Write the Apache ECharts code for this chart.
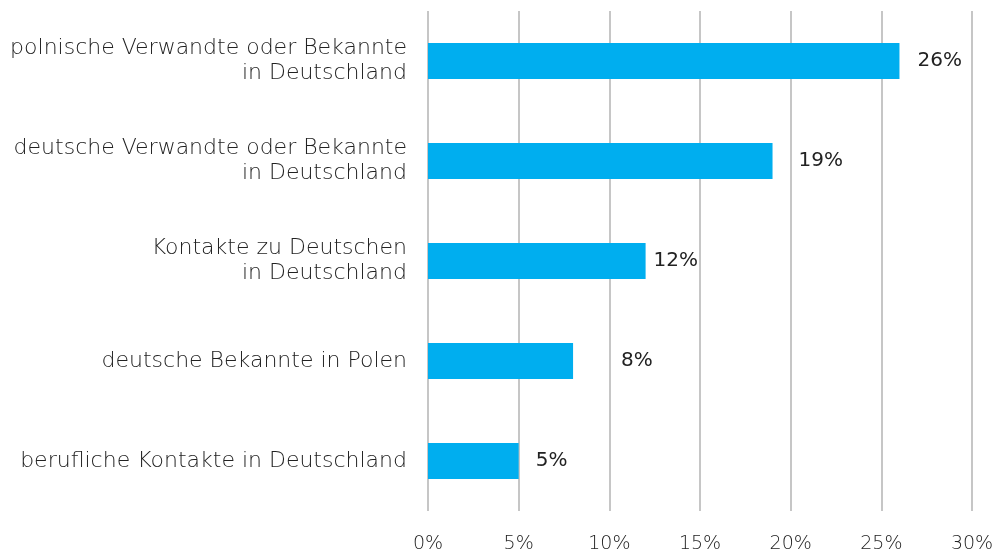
<!DOCTYPE html>
<html>
<head>
<meta charset="utf-8">
<script src="https://cdn.jsdelivr.net/npm/echarts@6/dist/echarts.min.js"></script>
<style>
  html, body { margin: 0; padding: 0; background: #fff; }
  #chart { width: 1003px; height: 557px; }
</style>
</head>
<body>
<div id="chart"></div>
<script>
// Kategorien von oben nach unten
const categories = [
  'polnische Verwandte oder Bekannte\nin Deutschland',
  'deutsche Verwandte oder Bekannte\nin Deutschland',
  'Kontakte zu Deutschen\nin Deutschland',
  'deutsche Bekannte in Polen',
  'berufliche Kontakte in Deutschland',
];
const values = [26, 19, 12, 8, 5];
const xTicks = [0, 5, 10, 15, 20, 25, 30];
// Abstand der Wertbeschriftung zum Balkenende (wie im Original, unregelmäßig)
const labelGap = [18, 26, 8, 48, 17];

const chart = echarts.init(document.getElementById('chart'), null, { renderer: 'canvas' });

const font = '"DejaVu Sans", sans-serif';

chart.setOption({
  animation: false,
  grid: { left: 428, right: 31, top: 11, bottom: 46 },
  xAxis: {
    type: 'value',
    min: xTicks[0],
    max: xTicks[xTicks.length - 1],
    interval: 5,
    axisLine: { show: false },
    axisTick: { show: false },
    axisLabel: {
      formatter: (v) => `${v}%`,
      margin: 24,
      fontFamily: font,
      fontWeight: 200,
      fontSize: 19,
      color: '#222',
    },
    splitLine: { show: true, lineStyle: { color: '#b3b3b3', width: 1.5 } },
  },
  yAxis: {
    type: 'category',
    data: categories,
    inverse: true,
    axisLine: { show: false },
    axisTick: { show: false },
    axisLabel: {
      margin: 21,
      fontFamily: font,
      fontWeight: 200,
      fontSize: 22,
      lineHeight: 25,
      color: '#222',
      align: 'right',
    },
  },
  series: [
    {
      type: 'bar',
      barWidth: 36,
      data: values.map((v, i) => ({
        value: v,
        label: { distance: labelGap[i] },
      })),
      itemStyle: { color: '#00aeef' },
      label: {
        show: true,
        position: 'right',
        formatter: (p) => `${p.value}%`,
        fontFamily: font,
        fontSize: 20,
        color: '#222',
      },
    },
  ],
});
</script>
</body>
</html>
